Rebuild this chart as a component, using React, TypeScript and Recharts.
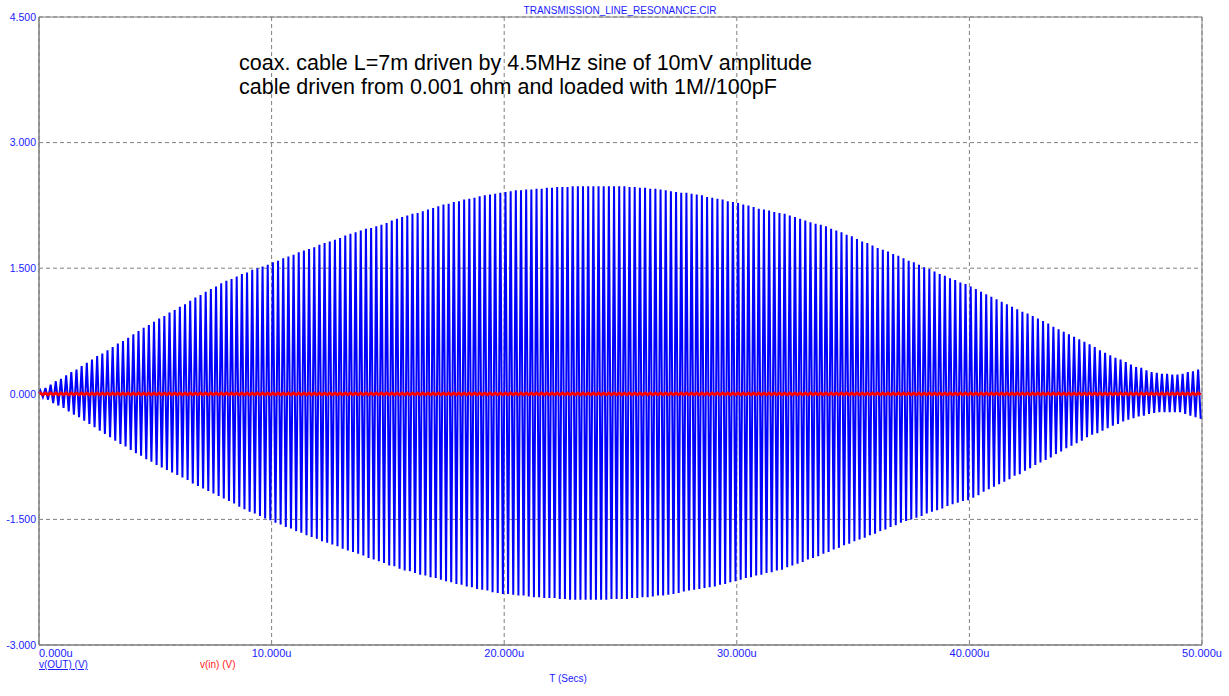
import React from "react";
import { LineChart, Line, XAxis, YAxis, CartesianGrid, ReferenceArea } from "recharts";

// 4.5 MHz drive -> one cycle every 1/4.5 us, 225 cycles in the 50 us window
const CYCLE_US = 1 / 4.5;

// positive peaks of v(OUT) per cycle (V), 9 cycles per row (~2 us)
const outPeaks = [
  0.04, 0.07, 0.11, 0.15, 0.18, 0.22, 0.26, 0.29, 0.33,
  0.37, 0.41, 0.45, 0.48, 0.52, 0.56, 0.60, 0.63, 0.67,
  0.71, 0.75, 0.79, 0.82, 0.86, 0.90, 0.93, 0.97, 1.00,
  1.04, 1.07, 1.11, 1.15, 1.18, 1.22, 1.25, 1.28, 1.32,
  1.35, 1.37, 1.40, 1.43, 1.45, 1.48, 1.50, 1.52, 1.54,
  1.57, 1.59, 1.62, 1.64, 1.66, 1.69, 1.71, 1.73, 1.75,
  1.78, 1.80, 1.82, 1.84, 1.86, 1.89, 1.91, 1.93, 1.95,
  1.97, 1.98, 2.00, 2.02, 2.04, 2.07, 2.09, 2.11, 2.13,
  2.15, 2.16, 2.18, 2.20, 2.22, 2.24, 2.26, 2.27, 2.29,
  2.30, 2.32, 2.33, 2.34, 2.36, 2.37, 2.38, 2.39, 2.40,
  2.41, 2.42, 2.43, 2.43, 2.44, 2.44, 2.45, 2.45, 2.46,
  2.46, 2.47, 2.47, 2.47, 2.48, 2.48, 2.48, 2.48, 2.48,
  2.48, 2.48, 2.48, 2.48, 2.48, 2.48, 2.47, 2.47, 2.46,
  2.46, 2.45, 2.45, 2.44, 2.43, 2.42, 2.41, 2.40, 2.40,
  2.39, 2.38, 2.37, 2.35, 2.34, 2.33, 2.32, 2.30, 2.29,
  2.28, 2.26, 2.25, 2.23, 2.21, 2.20, 2.19, 2.17, 2.16,
  2.15, 2.13, 2.11, 2.09, 2.07, 2.05, 2.03, 2.02, 2.00,
  1.97, 1.95, 1.93, 1.90, 1.88, 1.85, 1.82, 1.80, 1.77,
  1.74, 1.72, 1.70, 1.67, 1.65, 1.62, 1.59, 1.57, 1.54,
  1.51, 1.49, 1.46, 1.43, 1.41, 1.38, 1.36, 1.33, 1.31,
  1.28, 1.25, 1.22, 1.19, 1.16, 1.13, 1.10, 1.07, 1.04,
  1.01, 0.98, 0.96, 0.93, 0.90, 0.87, 0.84, 0.80, 0.77,
  0.74, 0.71, 0.68, 0.65, 0.62, 0.59, 0.56, 0.52, 0.49,
  0.46, 0.43, 0.41, 0.38, 0.35, 0.32, 0.31, 0.28, 0.26,
  0.25, 0.24, 0.24, 0.23, 0.23, 0.24, 0.26, 0.27, 0.29,
];

// negative peaks of v(OUT) per cycle (V)
const outTroughs = [
  -0.04, -0.07, -0.11, -0.14, -0.17, -0.21, -0.25, -0.28, -0.32,
  -0.36, -0.40, -0.44, -0.48, -0.52, -0.56, -0.60, -0.63, -0.67,
  -0.71, -0.74, -0.78, -0.81, -0.85, -0.88, -0.91, -0.94, -0.97,
  -1.00, -1.03, -1.07, -1.10, -1.13, -1.16, -1.19, -1.22, -1.25,
  -1.28, -1.31, -1.35, -1.38, -1.41, -1.43, -1.46, -1.49, -1.51,
  -1.54, -1.56, -1.59, -1.61, -1.64, -1.66, -1.69, -1.71, -1.73,
  -1.76, -1.78, -1.80, -1.82, -1.85, -1.87, -1.89, -1.91, -1.93,
  -1.96, -1.98, -2.00, -2.02, -2.05, -2.06, -2.09, -2.11, -2.12,
  -2.14, -2.16, -2.17, -2.19, -2.20, -2.22, -2.24, -2.25, -2.27,
  -2.28, -2.30, -2.31, -2.33, -2.34, -2.35, -2.37, -2.38, -2.39,
  -2.39, -2.40, -2.41, -2.41, -2.42, -2.43, -2.43, -2.44, -2.44,
  -2.44, -2.45, -2.45, -2.46, -2.46, -2.46, -2.46, -2.46, -2.46,
  -2.46, -2.46, -2.45, -2.45, -2.45, -2.45, -2.44, -2.44, -2.43,
  -2.43, -2.42, -2.41, -2.41, -2.40, -2.39, -2.38, -2.36, -2.35,
  -2.34, -2.33, -2.32, -2.31, -2.30, -2.28, -2.27, -2.25, -2.24,
  -2.22, -2.20, -2.19, -2.17, -2.16, -2.14, -2.13, -2.11, -2.10,
  -2.07, -2.05, -2.03, -2.01, -1.98, -1.96, -1.94, -1.91, -1.89,
  -1.86, -1.84, -1.81, -1.79, -1.76, -1.74, -1.72, -1.69, -1.67,
  -1.64, -1.62, -1.59, -1.57, -1.54, -1.52, -1.50, -1.48, -1.46,
  -1.43, -1.41, -1.39, -1.37, -1.34, -1.32, -1.30, -1.28, -1.27,
  -1.24, -1.21, -1.17, -1.14, -1.11, -1.08, -1.05, -1.02, -0.98,
  -0.96, -0.92, -0.89, -0.85, -0.82, -0.79, -0.76, -0.72, -0.69,
  -0.65, -0.62, -0.59, -0.56, -0.52, -0.49, -0.47, -0.44, -0.41,
  -0.38, -0.36, -0.33, -0.31, -0.29, -0.27, -0.26, -0.24, -0.23,
  -0.22, -0.22, -0.22, -0.22, -0.22, -0.24, -0.26, -0.28, -0.30,
];

// v(in): 10 mV amplitude sine
const VIN_AMPLITUDE = 0.01;

const xTicks = [0, 10, 20, 30, 40, 50];
const yTicks = [-3, -1.5, 0, 1.5, 3, 4.5];

const title = "TRANSMISSION_LINE_RESONANCE.CIR";
const noteLines = [
  "coax. cable L=7m driven by 4.5MHz sine of 10mV amplitude",
  "cable driven from 0.001 ohm and loaded with 1M//100pF",
];

const data: { t: number; out: number; vin: number }[] = [{ t: 0, out: 0, vin: 0 }];
outPeaks.forEach((peak, k) => {
  data.push({ t: (k + 0.25) * CYCLE_US, out: peak, vin: VIN_AMPLITUDE });
  data.push({ t: (k + 0.75) * CYCLE_US, out: outTroughs[k], vin: -VIN_AMPLITUDE });
});

const FONT = "Arial, 'Liberation Sans', sans-serif";
const BLUE_TEXT = "#1a1aff";
const GRID = "#808080";

const XTick = (props: any) => {
  const { x, y, payload, index } = props;
  return (
    <text
      x={x}
      y={y}
      dy="0.71em"
      textAnchor={index === 0 ? "start" : "middle"}
      fill={BLUE_TEXT}
      fontSize={11}
      fontFamily={FONT}
    >
      {payload.value.toFixed(3) + "u"}
    </text>
  );
};

const YTick = (props: any) => {
  const { x, y, payload } = props;
  return (
    <text x={x} y={y} dy="0.36em" textAnchor="end" fill={BLUE_TEXT} fontSize={10.5} fontFamily={FONT}>
      {payload.value.toFixed(3)}
    </text>
  );
};

export default function App() {
  return (
    <div style={{ position: "absolute", left: 0, top: 0, width: 1229, height: 696, background: "#fff" }}>
      <LineChart width={1229} height={696} data={data} margin={{ top: 17, right: 27, bottom: 21, left: 0 }}>
        <CartesianGrid stroke={GRID} strokeDasharray="4 3" />
        <XAxis
          dataKey="t"
          type="number"
          domain={[0, 50]}
          ticks={xTicks}
          interval={0}
          height={30}
          tick={<XTick />}
          tickLine={false}
          tickSize={0}
          tickMargin={4}
          axisLine={{ stroke: GRID }}
        />
        <YAxis
          type="number"
          domain={[-3, 4.5]}
          ticks={yTicks}
          interval={0}
          width={39}
          tick={<YTick />}
          tickLine={false}
          tickSize={0}
          tickMargin={3}
          axisLine={{ stroke: GRID }}
        />
        <Line
          type="linear"
          dataKey="out"
          stroke="#0000ff"
          strokeWidth={2}
          dot={false}
          activeDot={false}
          isAnimationActive={false}
        />
        <Line
          type="linear"
          dataKey="vin"
          stroke="#ff0000"
          strokeWidth={3}
          dot={false}
          activeDot={false}
          isAnimationActive={false}
        />
        <ReferenceArea x1={0} x2={50} y1={-3} y2={4.5} fill="none" stroke={GRID} strokeWidth={1} ifOverflow="visible" />
      </LineChart>
      <svg
        width={1229}
        height={696}
        style={{ position: "absolute", left: 0, top: 0, pointerEvents: "none" }}
        fontFamily={FONT}
      >
        <text x={620} y={14} textAnchor="middle" fontSize={10} fill={BLUE_TEXT}>
          {title}
        </text>
        {noteLines.map((line, i) => (
          <text key={i} x={239} y={70 + i * 24} fontSize={21.5} fill="#000">
            {line}
          </text>
        ))}
        <text x={39} y={668} fontSize={10} fill={BLUE_TEXT} textDecoration="underline">
          v(OUT) (V)
        </text>
        <text x={200} y={668} fontSize={10} fill="#ff2020">
          v(in) (V)
        </text>
        <text x={568} y={682} textAnchor="middle" fontSize={10} fill={BLUE_TEXT}>
          T (Secs)
        </text>
      </svg>
    </div>
  );
}
